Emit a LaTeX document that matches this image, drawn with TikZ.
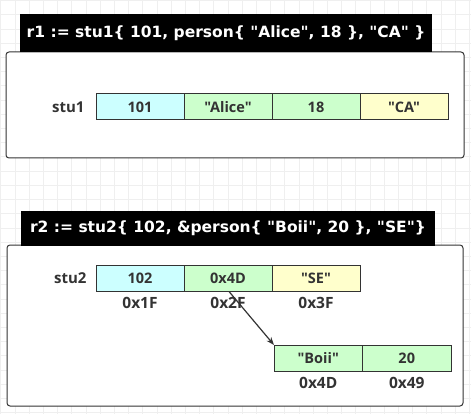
\documentclass[tikz,border=0pt]{standalone}
\usepackage{fontspec}
\setmainfont{Open Sans}[Ligatures=TeXOff]
\newfontfamily\titlefont{DejaVu Sans}[Ligatures=TeXOff]
\usetikzlibrary{positioning,arrows.meta}
\definecolor{cellcyan}{HTML}{CCFFFF}
\definecolor{cellgreen}{HTML}{CCFFCC}
\definecolor{cellyellow}{HTML}{FFFFCC}
\definecolor{inkgray}{HTML}{333333}
\definecolor{gridgray}{HTML}{EFEFEF}

\tikzset{
	cell/.style={draw=inkgray, line width=1pt, minimum width=88pt, minimum height=26pt,
		inner sep=0pt, outer sep=0pt, text=inkgray, font=\bfseries\fontsize{14.5}{16}\selectfont},
	frame/.style={draw=inkgray, line width=1pt, fill=white, rounded corners=3pt, inner sep=0pt},
	titlebar/.style={fill=black, text=white, inner sep=0pt, font=\titlefont\bfseries\fontsize{15.5}{17}\selectfont},
	varname/.style={text=inkgray, font=\bfseries\fontsize{15}{17}\selectfont},
	addr/.style={text=inkgray, font=\bfseries\fontsize{15.5}{17}\selectfont, inner sep=0pt}
}

\begin{document}
\begin{tikzpicture}[x=1pt,y=-1pt]
	\useasboundingbox (0,0) rectangle (471,414);
	% Background grid
	\foreach \i in {0,...,33} {
		\draw[gridgray] (14.2*\i+0.5,0) -- (14.2*\i+0.5,414);
	}
	\foreach \i in {0,...,29} {
		\draw[gridgray] (0,14.2*\i+0.5) -- (471,14.2*\i+0.5);
	}

	% First value
	\node[frame, minimum width=458pt, minimum height=106pt] (box1) at (235,105) {};
	\node[titlebar, minimum width=412pt, minimum height=38pt] (title1) at (226,33)
		{r1 := stu1\{ 101, person\{ "Alice", 18 \}, "CA" \}};
	\node[cell, fill=cellcyan] (a1) at (140,107) {101};
	\node[cell, fill=cellgreen, right=0pt of a1] (a2) {"Alice"};
	\node[cell, fill=cellgreen, right=0pt of a2] (a3) {18};
	\node[cell, fill=cellyellow, right=0pt of a3] (a4) {"CA"};
	\node[varname, left=8pt of a1] (stu1) {stu1};

	% Second value
	\node[frame, minimum width=456pt, minimum height=161pt] (box2) at (235,325.5) {};
	\node[titlebar, minimum width=414pt, minimum height=35pt] (title2) at (228,228.5)
		{r2 := stu2\{ 102, \&person\{ "Boii", 20 \}, "SE"\}};
	\node[cell, fill=cellcyan] (b1) at (140,278.5) {102};
	\node[cell, fill=cellgreen, right=0pt of b1] (b2) {0x4D};
	\node[cell, fill=cellyellow, right=0pt of b2] (b3) {"SE"};
	\node[varname, left=6pt of b1] (stu2) {stu2};
	\node[addr, below=6pt of b1] (b1addr) {0x1F};
	\node[addr, below=6pt of b2] (b2addr) {0x2F};
	\node[addr, below=6pt of b3] (b3addr) {0x3F};

	% Pointed-to person
	\node[cell, fill=cellgreen, minimum width=88.5pt] (p1) at (318.25,358) {"Boii"};
	\node[cell, fill=cellgreen, minimum width=88.5pt, right=0pt of p1] (p2) {20};
	\node[addr, below=6pt of p1] (p1addr) {0x4D};
	\node[addr, below=6pt of p2] (p2addr) {0x49};

	% Pointer
	\draw[inkgray, line width=1.2pt, -{Stealth[length=8pt,width=6pt]}] ([xshift=1pt]b2.south) -- (p1.north west);
\end{tikzpicture}
\end{document}
